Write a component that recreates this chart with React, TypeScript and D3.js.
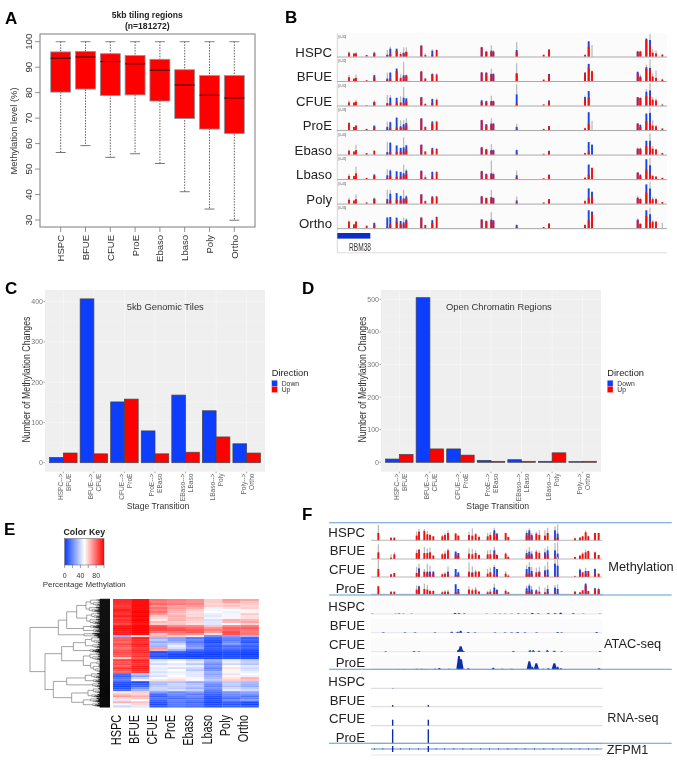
import * as d3 from "d3";

const FONT = "'Liberation Sans', Arial, sans-serif";

// panel A
const stages = ["HSPC", "BFUE", "CFUE", "ProE", "Ebaso", "Lbaso", "Poly", "Ortho"];
const whiskerLow = [56.5, 59.2, 54.6, 56, 52.2, 41.1, 34.3, 29.9];
const whiskerHigh = [100, 100, 100, 100, 100, 100, 100, 100];
const q1 = [80.2, 81.4, 78.9, 79.1, 76.7, 69.8, 65.7, 64];
const median = [93.5, 94, 92.2, 91.3, 88.8, 83, 79, 77.9];
const q3 = [96, 96.2, 95.3, 94.6, 93.1, 89, 86.7, 86.7];
const boxTicks = [30, 40, 50, 60, 70, 80, 90, 100];

// panel B, heights of the three overlaid signals at each CpG locus
const rbmLoci = [207, 222, 228, 260, 283, 322, 331, 350, 362, 371, 379, 424, 436, 457, 470, 605, 619, 634, 640, 710, 791, 807, 915, 926, 936, 1073, 1081, 1099, 1110, 1118, 1128, 1147];
const rbmRed = [
  [12, 10, 10, 5, 10, 5, 8, 18, 8, 10, 14, 32, 5, 6, 20, 28, 14, 14, 14, 14, 6, 20, 5, 30, 0, 14, 14, 50, 35, 12, 10, 6],
  [12, 8, 10, 3, 12, 5, 8, 30, 10, 12, 16, 28, 8, 20, 20, 26, 24, 20, 20, 22, 5, 20, 24, 40, 30, 24, 12, 38, 36, 14, 10, 5],
  [10, 10, 12, 2, 10, 6, 8, 10, 10, 8, 14, 24, 5, 8, 18, 12, 10, 12, 12, 6, 4, 14, 18, 25, 0, 24, 22, 30, 30, 18, 16, 3],
  [22, 10, 14, 4, 10, 4, 6, 8, 8, 10, 16, 34, 10, 20, 26, 30, 16, 18, 18, 4, 4, 12, 6, 20, 0, 20, 10, 28, 24, 14, 12, 5],
  [12, 10, 14, 5, 12, 4, 8, 8, 8, 10, 16, 30, 10, 14, 18, 22, 16, 12, 12, 4, 3, 10, 5, 10, 0, 18, 18, 26, 26, 18, 16, 5],
  [10, 10, 18, 4, 10, 4, 10, 8, 8, 12, 16, 24, 6, 8, 22, 24, 14, 16, 14, 4, 3, 12, 5, 14, 34, 20, 10, 30, 16, 10, 8, 4],
  [12, 10, 14, 4, 14, 6, 10, 12, 10, 14, 16, 28, 8, 18, 22, 22, 16, 18, 16, 4, 4, 12, 8, 18, 22, 18, 14, 34, 16, 14, 14, 5],
  [20, 12, 20, 8, 10, 4, 12, 20, 12, 12, 22, 32, 10, 16, 34, 26, 20, 24, 22, 4, 4, 14, 10, 24, 44, 24, 12, 38, 20, 20, 20, 0],
];
const rbmBlue = [
  [0, 0, 0, 0, 12, 6, 24, 24, 0, 12, 15, 34, 0, 18, 0, 28, 16, 18, 16, 20, 0, 22, 0, 46, 0, 16, 16, 54, 50, 0, 0, 0],
  [0, 0, 0, 0, 18, 8, 26, 38, 0, 18, 18, 30, 0, 22, 0, 26, 26, 22, 22, 24, 0, 22, 26, 52, 0, 28, 14, 42, 40, 0, 0, 0],
  [0, 0, 0, 0, 12, 8, 24, 24, 0, 24, 22, 26, 0, 20, 0, 16, 14, 14, 14, 34, 0, 16, 26, 44, 0, 26, 24, 42, 46, 0, 0, 0],
  [0, 0, 0, 0, 14, 10, 24, 38, 12, 18, 22, 36, 0, 26, 0, 30, 18, 20, 20, 10, 0, 12, 0, 54, 0, 20, 16, 50, 52, 0, 0, 0],
  [0, 0, 0, 0, 0, 8, 36, 28, 20, 22, 28, 30, 0, 20, 0, 22, 16, 14, 14, 14, 0, 12, 0, 38, 30, 18, 18, 42, 42, 0, 0, 0],
  [0, 0, 0, 0, 14, 12, 26, 24, 22, 18, 26, 26, 0, 22, 0, 24, 16, 18, 16, 12, 0, 14, 0, 44, 0, 20, 14, 60, 42, 0, 0, 0],
  [0, 0, 0, 0, 16, 14, 30, 32, 24, 16, 22, 28, 0, 22, 0, 22, 18, 20, 18, 10, 0, 14, 0, 46, 36, 18, 14, 58, 46, 0, 0, 0],
  [0, 0, 0, 0, 16, 32, 34, 32, 22, 18, 26, 32, 0, 24, 0, 26, 22, 26, 24, 10, 0, 14, 0, 54, 50, 26, 14, 54, 42, 0, 0, 0],
];
const rbmGrey = [
  [16, 0, 14, 0, 16, 20, 30, 0, 14, 28, 28, 0, 10, 22, 22, 30, 18, 34, 20, 44, 0, 0, 8, 46, 35, 18, 18, 56, 68, 22, 18, 8],
  [18, 0, 20, 0, 20, 26, 26, 0, 20, 58, 20, 0, 10, 24, 24, 28, 28, 38, 24, 54, 0, 0, 26, 52, 32, 30, 20, 50, 65, 24, 32, 8],
  [16, 0, 18, 0, 16, 32, 32, 0, 28, 56, 22, 0, 8, 22, 22, 18, 16, 30, 16, 64, 0, 0, 30, 44, 0, 26, 24, 50, 68, 26, 22, 6],
  [24, 0, 16, 0, 14, 26, 26, 0, 30, 30, 36, 0, 12, 28, 28, 32, 18, 36, 22, 20, 0, 0, 8, 54, 28, 20, 18, 50, 68, 30, 16, 6],
  [16, 0, 30, 0, 14, 38, 38, 0, 22, 52, 30, 0, 10, 22, 20, 24, 18, 32, 16, 16, 0, 0, 6, 38, 32, 22, 22, 42, 64, 26, 18, 6],
  [16, 0, 38, 0, 16, 30, 30, 0, 16, 44, 30, 0, 12, 24, 24, 26, 18, 56, 20, 26, 0, 0, 5, 44, 36, 20, 14, 60, 64, 14, 10, 5],
  [18, 0, 28, 0, 18, 42, 42, 0, 18, 42, 26, 0, 10, 24, 24, 24, 18, 42, 18, 22, 0, 0, 12, 46, 36, 24, 18, 58, 66, 20, 18, 5],
  [24, 0, 22, 0, 18, 34, 34, 0, 14, 32, 30, 0, 10, 26, 36, 28, 24, 48, 24, 12, 0, 0, 12, 54, 50, 30, 14, 54, 62, 24, 22, 16],
];
const rangeLabels = ["[0-30]", "[0-32]", "[0-30]", "[0-33]", "[0-40]", "[0-45]", "[0-45]", "[0-36]"];

// panels C and D
const transitionsC = [["HSPC-->", "BFUE"], ["BFUE-->", "CFUE"], ["CFUE-->", "ProE"], ["ProE-->", "EBaso"], ["EBaso-->", "LBaso"], ["LBaso-->", "Poly"], ["Poly-->", "Ortho"]];
const tilesDown = [13, 407, 151, 79, 168, 129, 47];
const tilesUp = [24, 22, 158, 22, 26, 64, 24];
const openDown = [10, 505, 41, 6, 8, 3, 2];
const openUp = [24, 41, 22, 3, 3, 29, 3];

// panel E
const keyTicks = [0, 20, 40, 60, 80, 100];
const keyLabels = [0, 40, 80];
const heatRows = [
  [92, 98, 78, 75, 72, 60, 70, 68], [92, 98, 76, 74, 72, 60, 68, 62], [90, 98, 80, 76, 74, 58, 60, 60],
  [88, 98, 72, 68, 70, 60, 62, 58], [90, 98, 78, 70, 66, 46, 56, 60], [94, 98, 74, 66, 60, 48, 50, 52],
  [92, 100, 78, 64, 56, 50, 46, 52], [90, 98, 70, 62, 58, 46, 48, 60], [94, 100, 62, 66, 58, 44, 52, 56],
  [88, 98, 58, 64, 62, 48, 48, 56], [92, 100, 54, 66, 60, 42, 66, 64], [90, 98, 64, 60, 58, 44, 64, 68],
  [86, 96, 60, 62, 56, 44, 50, 58], [96, 100, 84, 74, 74, 62, 74, 76], [98, 100, 88, 84, 80, 72, 82, 82],
  [96, 100, 86, 86, 84, 76, 80, 78], [94, 100, 78, 78, 84, 70, 86, 76], [94, 98, 62, 74, 72, 56, 84, 78],
  [30, 56, 66, 60, 54, 20, 24, 30], [82, 94, 30, 25, 15, 8, 18, 8], [84, 92, 36, 24, 20, 6, 16, 10],
  [80, 90, 28, 30, 14, 4, 20, 6], [86, 94, 34, 40, 20, 10, 24, 14], [82, 92, 30, 46, 22, 6, 12, 8],
  [78, 88, 70, 42, 26, 8, 14, 10], [84, 92, 66, 30, 12, 6, 8, 4], [86, 92, 4, 8, 4, 2, 4, 2],
  [84, 88, 8, 2, 2, 0, 2, 0], [82, 90, 4, 2, 0, 2, 4, 2], [60, 84, 10, 6, 6, 4, 6, 4],
  [88, 94, 42, 46, 40, 30, 44, 36], [84, 92, 46, 50, 44, 26, 46, 38], [86, 90, 40, 44, 36, 20, 40, 34],
  [82, 94, 48, 52, 46, 24, 50, 44], [90, 94, 44, 42, 40, 18, 56, 40], [84, 92, 46, 50, 36, 22, 52, 42],
  [80, 88, 42, 46, 44, 30, 48, 46], [12, 34, 46, 48, 44, 26, 56, 50], [8, 26, 42, 50, 44, 30, 52, 46],
  [14, 38, 50, 54, 48, 32, 56, 66], [16, 54, 56, 58, 52, 36, 60, 62], [6, 4, 34, 34, 28, 26, 36, 32],
  [4, 8, 32, 40, 34, 20, 38, 30], [2, 10, 36, 38, 36, 18, 34, 28], [6, 22, 40, 36, 30, 22, 40, 36],
  [12, 30, 38, 42, 38, 16, 44, 40], [54, 60, 24, 20, 24, 12, 22, 26], [62, 58, 12, 20, 16, 10, 20, 22],
  [70, 66, 8, 16, 20, 6, 18, 14], [58, 62, 14, 12, 14, 4, 12, 18], [44, 50, 10, 18, 16, 6, 20, 24],
  [66, 62, 6, 14, 10, 2, 8, 4], [48, 58, 4, 16, 14, 4, 6, 2], [40, 44, 8, 14, 12, 6, 10, 8],
];
// merge height, then two children; a terminal is [height, leaf count]
const dendroTree: any = [240,
  [155,
    [130,
      [100, [72, [58, 16], [62, 12]], [70, [55, 12], [60, 12]]],
      [80, [58, 8], [50, 8]],
    ],
    [78, [52, 4], [46, 4]],
  ],
  [195,
    [145,
      [110, [74, [55, 14], [52, 10]], [60, 8]],
      [80, [60, 16], [58, 24]],
    ],
    [170,
      [130, [74, [55, 12], [50, 8]], [52, 10]],
      [115, [66, [50, 12], [54, 8]], [80, [58, 10], [52, 8]]],
    ],
  ],
];

// panel F
const zfpmStages = ["HSPC", "BFUE", "CFUE", "ProE"];
const zfpmLoci = [250, 288, 298, 365, 372, 388, 397, 405, 415, 442, 450, 459, 482, 490, 522, 532, 542, 552, 578, 586, 598, 606, 632, 640, 695, 703, 710, 724, 733, 750, 758, 780, 788, 840, 855, 863, 872, 880, 900, 911];
const zfpmRed = [
  [22, 8, 8, 14, 26, 28, 18, 16, 12, 12, 16, 22, 20, 14, 16, 14, 18, 10, 12, 16, 22, 14, 22, 10, 14, 22, 12, 20, 16, 14, 22, 10, 8, 6, 8, 12, 24, 12, 22, 22],
  [20, 4, 14, 18, 28, 18, 18, 20, 10, 14, 16, 26, 14, 10, 16, 14, 18, 12, 14, 14, 16, 10, 16, 6, 12, 14, 10, 22, 18, 10, 14, 8, 6, 6, 10, 16, 20, 24, 20, 12],
  [24, 8, 12, 12, 14, 16, 12, 12, 10, 8, 10, 12, 6, 6, 16, 12, 16, 16, 10, 14, 8, 6, 10, 4, 10, 10, 10, 14, 14, 8, 6, 6, 4, 2, 8, 14, 10, 18, 12, 10],
  [24, 8, 8, 14, 18, 16, 14, 10, 10, 6, 8, 8, 6, 6, 14, 12, 14, 8, 6, 8, 10, 6, 10, 6, 10, 10, 8, 8, 8, 6, 6, 6, 4, 8, 6, 12, 26, 10, 14, 12],
];
const zfpmBlue = [
  [0, 0, 0, 0, 0, 0, 0, 0, 0, 0, 0, 0, 0, 0, 0, 0, 0, 0, 0, 0, 30, 20, 0, 0, 22, 30, 16, 0, 0, 0, 0, 30, 20, 0, 0, 0, 0, 0, 0, 0],
  [0, 0, 0, 0, 0, 0, 0, 0, 0, 0, 0, 0, 22, 18, 0, 0, 0, 0, 0, 0, 26, 12, 0, 0, 18, 22, 16, 0, 0, 20, 26, 26, 16, 0, 0, 0, 0, 0, 0, 0],
  [0, 0, 0, 0, 26, 0, 16, 16, 16, 0, 0, 16, 24, 14, 0, 14, 0, 0, 0, 0, 30, 24, 0, 0, 24, 30, 18, 0, 16, 20, 22, 40, 34, 0, 22, 0, 18, 0, 24, 0],
  [0, 0, 0, 0, 24, 0, 0, 0, 0, 0, 0, 0, 30, 16, 0, 0, 0, 0, 0, 0, 20, 14, 0, 0, 18, 26, 14, 12, 0, 0, 16, 20, 16, 0, 0, 0, 32, 0, 18, 16],
];
const zfpmGrey = [
  [46, 0, 8, 26, 34, 34, 28, 20, 12, 16, 22, 30, 22, 14, 26, 36, 22, 14, 22, 24, 38, 22, 22, 10, 30, 36, 22, 26, 30, 30, 38, 42, 48, 6, 10, 14, 30, 14, 22, 22],
  [44, 14, 20, 28, 30, 36, 32, 34, 12, 18, 24, 32, 24, 18, 32, 30, 26, 14, 26, 28, 36, 16, 20, 10, 28, 36, 24, 28, 24, 32, 38, 48, 50, 6, 12, 20, 28, 26, 22, 12],
  [52, 10, 12, 30, 40, 24, 40, 34, 18, 12, 16, 32, 24, 14, 44, 32, 22, 18, 24, 28, 36, 24, 18, 8, 36, 44, 30, 28, 30, 34, 46, 52, 60, 4, 26, 14, 28, 18, 26, 10],
  [26, 8, 8, 26, 26, 32, 28, 14, 12, 10, 12, 14, 30, 16, 24, 18, 22, 10, 10, 16, 32, 14, 16, 8, 26, 32, 24, 16, 24, 20, 28, 28, 30, 10, 8, 12, 32, 10, 20, 20],
];
const atacPeaks: [number, number][][] = [
  [[232, 1], [302, 1], [312, 1.5], [325, 1], [350, 1], [480, 3], [492, 2], [508, 1.5], [575, 1], [600, 1], [615, 1], [630, 1], [650, 1], [670, 1.5], [690, 1], [712, 3], [730, 1.5], [760, 2.5], [780, 2], [797, 3.5], [835, 2], [865, 1], [915, 1]],
  [[265, 1], [330, 1], [360, 1], [420, 1.5], [470, 3], [488, 3], [497, 6], [520, 2], [540, 1.5], [600, 1], [630, 1], [650, 1], [668, 2], [690, 1], [725, 1.5], [788, 2], [800, 1.5], [905, 2]],
  [[272, 1.5], [357, 2], [372, 1], [490, 6], [497, 16], [505, 3], [655, 2], [705, 4], [715, 4], [732, 3], [757, 4], [778, 3], [800, 1], [915, 2]],
  [[310, 1], [325, 1], [365, 2], [380, 1.5], [392, 1], [420, 2], [433, 4], [462, 2], [492, 40], [498, 30], [520, 3], [595, 5], [622, 2], [650, 2], [703, 24], [712, 8], [724, 18], [745, 2], [760, 3], [778, 18], [788, 8], [798, 3], [912, 3]],
];
const rnaLoci = [293, 400];
const rnaHeights = [[1, 0], [5, 5], [18, 18], [42, 42]];
const geneMarks = [240, 265, 318, 345, 372, 425, 450, 478, 505, 530, 558, 585, 612, 640, 665, 692, 720, 748, 775, 802, 830, 856, 882, 908];

const RED = "#ff0000";
const BLUE = "#0a3cff";

const heatColor = d3.scaleLinear<string>().domain([0, 50, 100]).range([BLUE, "#ffffff", RED]);

function Letter({ x, y, t }: { x: number; y: number; t: string }) {
  return (
    <text x={x} y={y} fontSize={17} fontWeight="bold" fill="#000">
      {t}
    </text>
  );
}

function BoxPanel() {
  const x = d3.scalePoint<string>().domain(stages).range([60.7, 234.3]);
  const y = d3.scaleLinear().domain([30, 100]).range([220, 41.7]);
  const w = 20;
  return (
    <g>
      <text x={147.3} y={17.5} textAnchor="middle" fontSize={8.6} fontWeight="bold" fill="#222">5kb tiling regions</text>
      <text x={147.3} y={29} textAnchor="middle" fontSize={8.6} fontWeight="bold" fill="#222">(n=181272)</text>
      {stages.map((s, i) => {
        const cx = x(s)!;
        return (
          <g key={s}>
            <line x1={cx} x2={cx} y1={y(whiskerHigh[i])} y2={y(whiskerLow[i])} stroke="#444" strokeWidth={0.9} strokeDasharray="1.4 1.4" />
            <line x1={cx - 5} x2={cx + 5} y1={y(whiskerHigh[i])} y2={y(whiskerHigh[i])} stroke="#777" strokeWidth={0.9} />
            <line x1={cx - 5} x2={cx + 5} y1={y(whiskerLow[i])} y2={y(whiskerLow[i])} stroke="#666" strokeWidth={0.9} />
            <rect x={cx - w / 2} width={w} y={y(q3[i])} height={y(q1[i]) - y(q3[i])} fill={RED} stroke="#7aa3ac" strokeWidth={0.8} />
            <line x1={cx - w / 2} x2={cx + w / 2} y1={y(median[i])} y2={y(median[i])} stroke="#300" strokeWidth={1} />
            <line x1={cx} x2={cx} y1={227} y2={232} stroke="#777" strokeWidth={0.8} />
            <text transform={`translate(${cx + 3.4},235) rotate(-90)`} textAnchor="end" fontSize={9.5} fill="#333">{s}</text>
          </g>
        );
      })}
      <rect x={40} y={34} width={215} height={193} fill="none" stroke="#888" strokeWidth={1.1} />
      {boxTicks.map((t) => (
        <g key={t}>
          <line x1={35} x2={40} y1={y(t)} y2={y(t)} stroke="#777" strokeWidth={0.8} />
          <text transform={`translate(31.5,${y(t)}) rotate(-90)`} textAnchor="middle" fontSize={9.8} fill="#333">{t}</text>
        </g>
      ))}
      <text transform="translate(16.5,131) rotate(-90)" textAnchor="middle" fontSize={9.4} fill="#333">Methylation level (%)</text>
    </g>
  );
}

function SignalTrack({ loci, red, blue, grey, x, y, barW }: { loci: number[]; red: number[]; blue: number[]; grey: number[]; x: d3.ScaleLinear<number, number>; y: d3.ScaleLinear<number, number>; barW: number }) {
  return (
    <g>
      {loci.map((l, i) => (
        <g key={l}>
          {grey[i] > 0 && <rect x={x(l) - 0.6} width={1.2} y={y(grey[i])} height={y(0) - y(grey[i])} fill="#b8b8b8" />}
          {blue[i] > 0 && <rect x={x(l) - barW / 2} width={barW} y={y(blue[i])} height={y(0) - y(blue[i])} fill="#1f45e8" />}
          {red[i] > 0 && <rect x={x(l) - barW / 2} width={barW} y={y(red[i])} height={y(0) - y(red[i])} fill="#f40f0f" />}
        </g>
      ))}
    </g>
  );
}

function TrackPanelB() {
  const x = d3.scaleLinear().domain([172, 1160]).range([337.3, 666.7]);
  const baseline = d3.scalePoint<string>().domain(stages).range([56.7, 228.3]);
  return (
    <g>
      <rect x={337} y={33} width={330} height={197} fill="#fbfbfb" />
      <line x1={337.3} x2={337.3} y1={33} y2={253} stroke="#ccc" strokeWidth={0.8} />
      {stages.map((s, i) => {
        const b = baseline(s)!;
        const y = d3.scaleLinear().domain([0, 66]).range([b, b - 22]);
        return (
          <g key={s}>
            <SignalTrack loci={rbmLoci} red={rbmRed[i]} blue={rbmBlue[i]} grey={rbmGrey[i]} x={x} y={y} barW={1.9} />
            <line x1={337} x2={667} y1={b + 0.3} y2={b + 0.3} stroke="#aaa" strokeWidth={1} />
            <text x={338.5} y={b - 19} fontSize={3} fill="#555">{rangeLabels[i]}</text>
            <text x={332} y={b} textAnchor="end" fontSize={13.2} fill="#222">{s}</text>
          </g>
        );
      })}
      <rect x={337.3} y={233} width={33} height={5.6} fill="#0b2fc0" />
      <text transform="translate(349,250.5) scale(0.6,1)" fontSize={11} fill="#333">RBM38</text>
      <line x1={337} x2={667} y1={252.8} y2={252.8} stroke="#ddd" strokeWidth={1} />
    </g>
  );
}

function BarPanel({ x0, x1, y0, y100, max, ticks, down, up, title, titleX, legendX, stageX }: { x0: number; x1: number; y0: number; y100: number; max: number; ticks: number[]; down: number[]; up: number[]; title: string; titleX: number; legendX: number; stageX: number }) {
  const keys = transitionsC.map((t) => t.join(" "));
  const x = d3.scalePoint<string>().domain(keys).range([x0, x1]).padding(0.6);
  const bw = x.step() * 0.45;
  const y = d3.scaleLinear().domain([0, max]).range([y0, y100]);
  const top = 290;
  const bottom = 471.7;
  const minor = ticks.slice(1).map((t, i) => (t + ticks[i]) / 2);
  return (
    <g>
      <rect x={x0} y={top} width={x1 - x0} height={bottom - top} fill="#efefef" />
      {minor.map((t) => <line key={t} x1={x0} x2={x1} y1={y(t)} y2={y(t)} stroke="#f6f6f6" strokeWidth={0.4} />)}
      {ticks.map((t) => <line key={t} x1={x0} x2={x1} y1={y(t)} y2={y(t)} stroke="#fafafa" strokeWidth={0.6} />)}
      {keys.map((k) => <line key={k} x1={x(k)} x2={x(k)} y1={top} y2={bottom} stroke="#fafafa" strokeWidth={0.6} />)}
      {keys.map((k, i) => (
        <g key={k}>
          <rect x={x(k)! - bw} width={bw} y={y(down[i])} height={y0 - y(down[i])} fill={BLUE} stroke="#444" strokeWidth={0.7} />
          <rect x={x(k)!} width={bw} y={y(up[i])} height={y0 - y(up[i])} fill={RED} stroke="#444" strokeWidth={0.7} />
          <line x1={x(k)} x2={x(k)} y1={bottom} y2={bottom + 1.5} stroke="#666" strokeWidth={0.6} />
          <text transform={`translate(${x(k)! - 0.8},473.5) rotate(-90)`} textAnchor="end" fontSize={6.6} fill="#666">{transitionsC[i][0]}</text>
          <text transform={`translate(${x(k)! + 7.2},473.5) rotate(-90)`} textAnchor="end" fontSize={6.6} fill="#666">{transitionsC[i][1]}</text>
        </g>
      ))}
      {ticks.map((t) => (
        <g key={t}>
          <line x1={x0 - 1.5} x2={x0} y1={y(t)} y2={y(t)} stroke="#666" strokeWidth={0.6} />
          <text x={x0 - 2} y={y(t) + 2.4} textAnchor="end" fontSize={7} fill="#777">{t}</text>
        </g>
      ))}
      <text transform={`translate(${x0 - 15.3},379.5) rotate(-90)`} textAnchor="middle" fontSize={10} textLength={126} lengthAdjust="spacingAndGlyphs" fill="#333">Number of Methylation Changes</text>
      <text x={stageX} y={509} textAnchor="middle" fontSize={9.6} textLength={62.7} lengthAdjust="spacingAndGlyphs" fill="#333">Stage Transition</text>
      <text x={titleX} y={310.3} fontSize={9.4} fill="#333">{title}</text>
      <text x={legendX} y={375.5} fontSize={9.3} fill="#222">Direction</text>
      <rect x={legendX} y={380.3} width={5.7} height={6.1} fill={BLUE} stroke="#ddd" strokeWidth={0.3} />
      <rect x={legendX} y={386.4} width={5.7} height={6.1} fill={RED} stroke="#ddd" strokeWidth={0.3} />
      <text x={legendX + 10} y={385.8} fontSize={6.8} fill="#333">Down</text>
      <text x={legendX + 10} y={392.3} fontSize={6.8} fill="#333">Up</text>
    </g>
  );
}

interface DendroNode { h: number; children?: DendroNode[] }

// fine branching below the drawn clusters, uneven so it does not look like a comb
function fan(h: number, n: number): DendroNode {
  if (n <= 1) return { h: 0 };
  const small = Math.max(1, Math.floor(n * 0.38));
  return { h, children: [fan(Math.max(h * 0.68, 30), small), fan(Math.max(h * 0.86, 30), n - small)] };
}

function toNode(t: any): DendroNode {
  if (typeof t[1] === "number") return fan(t[0], t[1]);
  return { h: t[0], children: [toNode(t[1]), toNode(t[2])] };
}

function HeatPanel() {
  const cols = d3.scaleBand<string>().domain(stages).range([113, 258.7]);
  const rows = d3.scaleBand<number>().domain(d3.range(heatRows.length)).range([599, 707.3]);
  const key = d3.scaleLinear().domain([0, 100]).range([64.7, 104]);
  const dx = d3.scaleLinear().domain([0, 240]).range([110, 30]);

  const root = d3.hierarchy<DendroNode>(toNode(dendroTree));
  d3.cluster<DendroNode>().size([108.3, 1]).separation(() => 1)(root);
  const links = root.links() as any[];
  const line = (l: any) => `M${dx(l.source.data.h)},${l.source.x + 599}V${l.target.x + 599}H${dx(l.target.data.h)}`;

  return (
    <g>
      <defs>
        <linearGradient id="keyGrad">
          {d3.range(0, 101, 10).map((v) => <stop key={v} offset={`${v}%`} stopColor={heatColor(v)} />)}
        </linearGradient>
      </defs>
      <text x={84.3} y={535} textAnchor="middle" fontSize={8.8} fontWeight="bold" fill="#222">Color Key</text>
      <rect x={key(0)} y={538.7} width={key(100) - key(0)} height={26.3} fill="url(#keyGrad)" stroke="#555" strokeWidth={0.5} />
      {keyTicks.map((t) => <line key={t} x1={key(t)} x2={key(t)} y1={565} y2={568} stroke="#444" strokeWidth={0.5} />)}
      {keyLabels.map((t) => <text key={t} x={key(t)} y={577.5} textAnchor="middle" fontSize={7} fill="#333">{t}</text>)}
      <text x={84.3} y={587.2} textAnchor="middle" fontSize={7.9} fill="#333">Percentage Methylation</text>
      {links.map((l, i) => (
        <path key={i} d={line(l)} fill="none" stroke={l.target.data.h === 0 ? "#000" : "#666"} strokeWidth={l.target.data.h === 0 ? 0.9 : 0.6} />
      ))}
      {heatRows.map((r, ri) =>
        r.map((v, ci) => (
          <rect key={`${ri}-${ci}`} x={cols(stages[ci])} y={rows(ri)} width={cols.bandwidth() + 0.2} height={rows.bandwidth() + 0.2} fill={heatColor(v)} />
        )),
      )}
      {stages.map((s) => (
        <text key={s} transform={`translate(${cols(s)! + 7.5},715) rotate(-90) scale(0.75,1)`} textAnchor="end" fontSize={14.5} fill="#111">{s}</text>
      ))}
    </g>
  );
}

function TrackPanelF() {
  const x = d3.scaleLinear().domain([228, 922]).range([371, 602.3]);
  const methBase = [540.3, 559, 577, 594.3];
  const atacBase = [614, 632.7, 651.7, 669.3];
  const rnaBase = [688.3, 706.7, 725.7, 743.3];
  const labelY = [[532.3, 550.7, 569, 588.3], [606, 625, 644, 662.7], [681.7, 700, 718.7, 737.3]];
  const separators = [522.7, 595, 669.3, 743.3];
  const geneY = 749;
  return (
    <g>
      {zfpmStages.map((s, i) => {
        const y = d3.scaleLinear().domain([0, 66]).range([methBase[i], methBase[i] - 22]);
        return (
          <g key={s}>
            <SignalTrack loci={zfpmLoci} red={zfpmRed[i]} blue={zfpmBlue[i]} grey={zfpmGrey[i]} x={x} y={y} barW={1.9} />
            <line x1={371} x2={602.3} y1={methBase[i]} y2={methBase[i]} stroke="#999" strokeWidth={0.7} />
          </g>
        );
      })}
      {zfpmStages.map((s, i) => {
        const y = d3.scaleLinear().domain([0, 3]).range([atacBase[i], atacBase[i] - 1]);
        const area = d3.area<[number, number]>().x((d) => x(d[0])).y0(y(0)).y1((d) => y(d[1]));
        return (
          <g key={s}>
            <rect x={371} y={atacBase[i] - 14} width={231.3} height={14} fill="#fbfbfb" />
            <line x1={371} x2={602.3} y1={atacBase[i]} y2={atacBase[i]} stroke="#c8c8d8" strokeWidth={0.5} />
            {atacPeaks[i].map(([px, h]) => {
              const w = h > 10 ? 8 : 5;
              return <path key={px} d={area([[px - w, 0], [px - w / 3, h], [px + w / 3, h], [px + w, 0]])!} fill="#0f2fa8" />;
            })}
          </g>
        );
      })}
      {zfpmStages.map((s, i) => {
        const y = d3.scaleLinear().domain([0, 3]).range([rnaBase[i], rnaBase[i] - 1]);
        return (
          <g key={s}>
            <line x1={371} x2={602.3} y1={rnaBase[i]} y2={rnaBase[i]} stroke="#bbb" strokeWidth={0.6} />
            {rnaLoci.map((l, j) => rnaHeights[i][j] > 0 && (
              <line key={l} x1={x(l)} x2={x(l)} y1={y(0)} y2={y(rnaHeights[i][j])} stroke="#0f2fa8" strokeWidth={1.4} />
            ))}
          </g>
        );
      })}
      {labelY.map((row, r) =>
        zfpmStages.map((s, i) => (
          <text key={`${r}-${s}`} x={365} y={row[i] + 4.6} textAnchor="end" fontSize={13.2} fill="#222">{s}</text>
        )),
      )}
      {separators.map((y) => <line key={y} x1={329} x2={671.7} y1={y} y2={y} stroke="#5f9bd0" strokeWidth={1.1} />)}
      <line x1={371} x2={602.3} y1={geneY} y2={geneY} stroke="#2a50c0" strokeWidth={0.7} />
      {geneMarks.map((m) => (
        <path key={m} d={`M${x(m) - 1},${geneY - 1}L${x(m)},${geneY}L${x(m) - 1},${geneY + 1}`} fill="none" stroke="#2a50c0" strokeWidth={0.6} />
      ))}
      {rnaLoci.map((l) => <line key={l} x1={x(l)} x2={x(l)} y1={geneY - 3} y2={geneY + 3} stroke="#0f2fa8" strokeWidth={1.4} />)}
      <line x1={371} x2={602.3} y1={755} y2={755} stroke="#ddd" strokeWidth={0.7} />
      <text x={608.3} y={570.5} fontSize={12.8} fill="#222">Methylation</text>
      <text x={604} y={647.8} fontSize={12.8} fill="#222">ATAC-seq</text>
      <text x={607.3} y={722.2} fontSize={12.6} fill="#222">RNA-seq</text>
      <text x={606.7} y={753.5} fontSize={12.7} fill="#222">ZFPM1</text>
    </g>
  );
}

export default function App() {
  return (
    <svg width={677} height={760} viewBox="0 0 677 760" fontFamily={FONT} style={{ position: "absolute", left: 0, top: 0, background: "#fff" }}>
      <defs>
        <filter id="soft" x="0" y="0" width="100%" height="100%">
          <feGaussianBlur stdDeviation={0.45} />
        </filter>
      </defs>
      <g filter="url(#soft)">
        <BoxPanel />
        <TrackPanelB />
        <BarPanel x0={45} x1={265} y0={462.7} y100={301.7} max={400} ticks={[0, 100, 200, 300, 400]} down={tilesDown} up={tilesUp} title="5kb Genomic Tiles" titleX={126.7} legendX={271.7} stageX={158} />
        <BarPanel x0={381} x1={601} y0={462.3} y100={299.3} max={500} ticks={[0, 100, 200, 300, 400, 500]} down={openDown} up={openUp} title="Open Chromatin Regions" titleX={446} legendX={607.3} stageX={497.7} />
        <HeatPanel />
        <TrackPanelF />
        <Letter x={5} y={24} t="A" />
        <Letter x={285} y={23} t="B" />
        <Letter x={5} y={294} t="C" />
        <Letter x={302} y={294} t="D" />
        <Letter x={4} y={535} t="E" />
        <Letter x={302} y={520} t="F" />
      </g>
    </svg>
  );
}
